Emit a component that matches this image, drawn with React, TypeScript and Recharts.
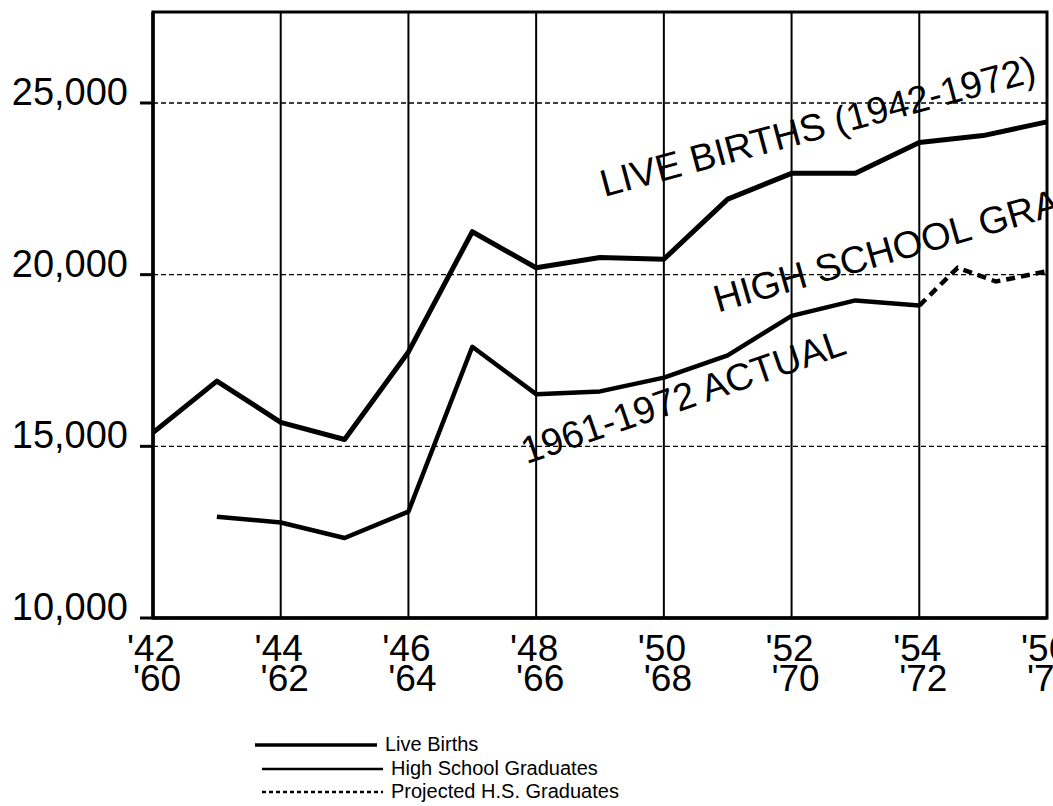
import React from 'react';
import { LineChart, Line, XAxis, YAxis, CartesianGrid, ReferenceArea, ReferenceDot, Legend } from 'recharts';

// ---- data ----
const birthYears = [1942, 1943, 1944, 1945, 1946, 1947, 1948, 1949, 1950, 1951, 1952, 1953, 1954, 1955, 1956];
const liveBirths = [15400, 16900, 15700, 15200, 17750, 21250, 20200, 20500, 20450, 22200, 22950, 22950, 23850, 24050, 24450];

const gradYears = [1943, 1944, 1945, 1946, 1947, 1948, 1949, 1950, 1951, 1952, 1953, 1954];
const gradValues = [12950, 12780, 12330, 13100, 17900, 16520, 16600, 17000, 17650, 18800, 19250, 19100];

const projYears = [1954, 1954.6, 1955.2, 1956];
const projValues = [19100, 20200, 19800, 20100];

const xTicks = [1942, 1944, 1946, 1948, 1950, 1952, 1954, 1956];
const xTopLabels = ["'42", "'44", "'46", "'48", "'50", "'52", "'54", "'56"];
const xBottomLabels = ["'60", "'62", "'64", "'66", "'68", "'70", "'72", "'74"];

const yTicks = [10000, 15000, 20000, 25000];
const yLabels = ['10,000', '15,000', '20,000', '25,000'];
const yMax = 27650;

const seriesNames = ['Live Births', 'High School Graduates', 'Projected H.S. Graduates'];
const annotationTexts = ['LIVE BIRTHS (1942-1972)', 'HIGH SCHOOL GRADUATES', '1961-1972 ACTUAL'];

const birthData = birthYears.map((year, i) => ({ year, value: liveBirths[i] }));
const gradData = gradYears.map((year, i) => ({ year, value: gradValues[i] }));
const projData = projYears.map((year, i) => ({ year, value: projValues[i] }));

const FONT = '"Liberation Sans", Arial, sans-serif';

const YTick = (props: any) => {
  const { x, y, payload } = props;
  const idx = yTicks.indexOf(payload.value);
  return (
    <text x={x} y={y + 2} textAnchor="end" fontSize={38} fontFamily={FONT} fill="#000">
      {yLabels[idx]}
    </text>
  );
};

const XTick = (props: any) => {
  const { x, y, payload } = props;
  const idx = xTicks.indexOf(payload.value);
  return (
    <g>
      <text x={x - 2} y={y + 43} textAnchor="middle" fontSize={37} fontFamily={FONT} fill="#000">
        {xTopLabels[idx]}
      </text>
      <text x={x + 4} y={y + 73} textAnchor="middle" fontSize={37} fontFamily={FONT} fill="#000">
        {xBottomLabels[idx]}
      </text>
    </g>
  );
};

const makeAnnot = (text: string, angle: number, anchor: 'start' | 'end', size: number) => (p: any) => (
  <text
    x={p.cx}
    y={p.cy}
    transform={`rotate(${angle} ${p.cx} ${p.cy})`}
    textAnchor={anchor}
    fontSize={size}
    fontFamily={FONT}
    fill="#000"
  >
    {text}
  </text>
);

const legendStyles = [
  { w: 3.5, dash: undefined as string | undefined, x1: 255, x2: 377 },
  { w: 2.5, dash: undefined as string | undefined, x1: 262, x2: 383 },
  { w: 2.5, dash: '4 3', x1: 262, x2: 383 },
];

const LegendContent = (props: any) => {
  const payload = (props.payload || []).slice();
  payload.sort((a: any, b: any) => seriesNames.indexOf(a.value) - seriesNames.indexOf(b.value));
  const rowsY = [15, 39, 62];
  return (
    <svg width={700} height={76} style={{ display: 'block' }}>
      {payload.map((entry: any, i: number) => {
        const idx = Math.max(0, seriesNames.indexOf(entry.value));
        const st = legendStyles[idx];
        const y = rowsY[idx];
        return (
          <g key={i}>
            <line x1={st.x1} x2={st.x2} y1={y} y2={y} stroke="#000" strokeWidth={st.w} strokeDasharray={st.dash} />
            <text x={st.x2 + 8} y={y + 6} fontSize={20} fontFamily={FONT} fill="#000">
              {entry.value}
            </text>
          </g>
        );
      })}
    </svg>
  );
};

export default function App() {
  return (
    <div style={{ position: 'absolute', left: 0, top: 0, background: '#fff' }}>
      <LineChart
        width={1053}
        height={806}
        margin={{ top: 12, right: 6, bottom: 128, left: 0 }}
      >
        <CartesianGrid horizontal={true} vertical={false} stroke="#000" strokeWidth={1.3} strokeDasharray="5 3" />
        <CartesianGrid horizontal={false} vertical={true} stroke="#000" strokeWidth={2} />
        <XAxis
          dataKey="year"
          type="number"
          domain={[1942, 1956]}
          ticks={xTicks}
          allowDuplicatedCategory={false}
          interval={0}
          height={60}
          tickLine={false}
          tickSize={0}
          tickMargin={0}
          axisLine={{ stroke: '#000', strokeWidth: 3.5 }}
          tick={<XTick />}
        />
        <YAxis
          type="number"
          domain={[10000, yMax]}
          ticks={yTicks}
          interval={0}
          width={153}
          tickSize={13}
          tickMargin={12}
          axisLine={{ stroke: '#000', strokeWidth: 3.5 }}
          tickLine={{ stroke: '#000', strokeWidth: 3 }}
          tick={<YTick />}
        />
        <ReferenceArea
          x1={1942}
          x2={1956}
          y1={10000}
          y2={yMax}
          fill="none"
          fillOpacity={0}
          stroke="#000"
          strokeWidth={3}
        />
        <Line
          id="births"
          data={birthData}
          dataKey="value"
          name={seriesNames[0]}
          stroke="#000"
          strokeWidth={5}
          dot={false}
          isAnimationActive={false}
          strokeLinejoin="round"
        />
        <Line
          id="grads"
          data={gradData}
          dataKey="value"
          name={seriesNames[1]}
          stroke="#000"
          strokeWidth={4.5}
          dot={false}
          isAnimationActive={false}
          strokeLinejoin="round"
        />
        <Line
          id="proj"
          data={projData}
          dataKey="value"
          name={seriesNames[2]}
          stroke="#000"
          strokeWidth={4.5}
          strokeDasharray="9 6"
          dot={false}
          isAnimationActive={false}
        />
        <ReferenceDot
          x={1955.86}
          y={25650}
          r={0}
          ifOverflow="hidden"
          shape={makeAnnot(annotationTexts[0], -15, 'end', 38)}
        />
        <ReferenceDot
          x={1950.85}
          y={18900}
          r={0}
          ifOverflow="hidden"
          shape={makeAnnot(annotationTexts[1], -16, 'start', 38)}
        />
        <ReferenceDot
          x={1947.85}
          y={14480}
          r={0}
          ifOverflow="hidden"
          shape={makeAnnot(annotationTexts[2], -19, 'start', 38)}
        />
        <Legend
          layout="horizontal"
          verticalAlign="middle"
          align="center"
          wrapperStyle={{ left: 0, top: 730, width: 700, height: 76 }}
          content={<LegendContent />}
        />
      </LineChart>
    </div>
  );
}
